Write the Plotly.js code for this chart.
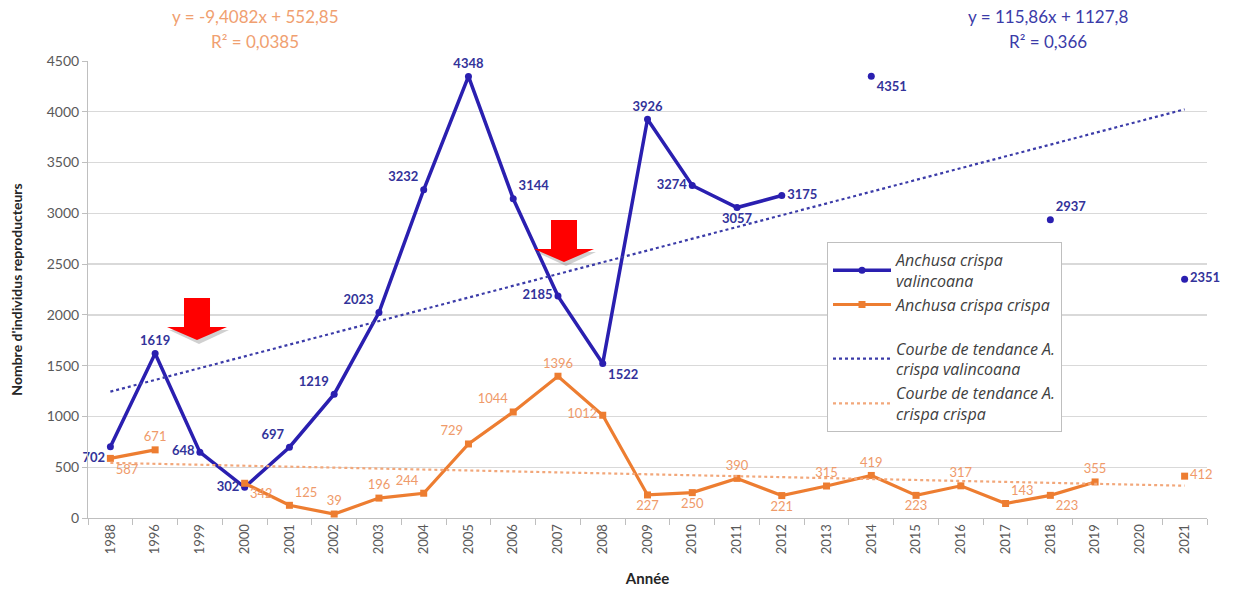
<!DOCTYPE html>
<html>
<head>
<meta charset="utf-8">
<script src="https://cdn.plot.ly/plotly-3.0.1.min.js"></script>
<style>html,body{margin:0;padding:0;background:#fff;}#chart{width:1242px;height:597px;}</style>
</head>
<body>
<div id="chart"></div>
<script>
// ---- Data ----
const years = ["1988","1996","1999","2000","2001","2002","2003","2004","2005","2006","2007","2008","2009","2010","2011","2012","2013","2014","2015","2016","2017","2018","2019","2020","2021"];
const valincoana = [702,1619,648,302,697,1219,2023,3232,4348,3144,2185,1522,3926,3274,3057,3175,null,4351,null,null,null,2937,null,null,2351];
const crispa = [587,671,null,342,125,39,196,244,729,1044,1396,1012,227,250,390,221,315,419,223,317,143,223,355,null,412];
const valincoanaPos = ["bottom left","top center","middle left","middle left","top left","top left","top left","top left","top center","top right","middle left","bottom right","top center","middle left","bottom center","middle right","top center","bottom right","top center","top center","top center","top right","top center","top center","middle right"];
const crispaPos = ["bottom right","top center","top center","bottom right","top right","top center","top center","top left","top left","top left","top center","middle left","bottom center","bottom center","top center","bottom center","top center","top center","bottom center","top center","top right","bottom right","top center","top center","middle right"];
// Trend lines (endpoints)
const trendYears = ["1988","2021"];
const trendValincoana = [1244,4024];
const trendCrispa = [543,318];
const eqCrispa = ["y = -9,4082x + 552,85","R² = 0,0385"];
const eqValincoana = ["y = 115,86x + 1127,8","R² = 0,366"];

const BLUE = "#2a1fb0";
const ORANGE = "#ed7d31";
const FONT = "Lato, 'Open Sans', sans-serif";

const traces = [
  {
    x: years, y: valincoana, type: "scatter", mode: "lines+markers+text",
    name: "Anchusa crispa<br>valincoana", legendgroup: "a",
    line: {color: BLUE, width: 3.5}, marker: {color: BLUE, size: 7},
    connectgaps: false,
    texttemplate: "%{y}", textposition: valincoanaPos,
    textfont: {family: FONT, size: 13, color: "#33339a", weight: "bold"},
    cliponaxis: false
  },
  {
    x: years, y: crispa, type: "scatter", mode: "lines+markers+text",
    name: "Anchusa crispa crispa", legendgroup: "a",
    line: {color: ORANGE, width: 3.2}, marker: {color: ORANGE, size: 7, symbol: "square"},
    connectgaps: false,
    texttemplate: "%{y}", textposition: crispaPos,
    textfont: {family: FONT, size: 13, color: "#ef9a6a"},
    cliponaxis: false
  },
  {
    x: trendYears, y: trendValincoana, type: "scatter", mode: "lines",
    name: "Courbe de tendance A.<br>crispa valincoana", legendgroup: "b",
    line: {color: "#3b3ba8", width: 2.2, dash: "dot"}
  },
  {
    x: trendYears, y: trendCrispa, type: "scatter", mode: "lines",
    name: "Courbe de tendance A.<br>crispa crispa", legendgroup: "b",
    line: {color: "#f2a77a", width: 2.2, dash: "dot"}
  }
];

// pixel -> paper helpers for decorations
const L = 88, R = 1207, T = 61, B = 518;
const px = v => (v - L) / (R - L);
const py = v => (B - v) / (B - T);
function arrowPath(cx, top, shaftW, shaftBot, headW, tip) {
  const p = [
    [cx - shaftW/2, top], [cx + shaftW/2, top], [cx + shaftW/2, shaftBot],
    [cx + headW/2, shaftBot], [cx, tip], [cx - headW/2, shaftBot], [cx - shaftW/2, shaftBot]
  ];
  return "M" + p.map(q => px(q[0]).toFixed(5) + "," + py(q[1]).toFixed(5)).join("L") + "Z";
}
function shadowPath(cx, shaftBot, headW, tip) {
  const p = [[cx - headW/2 + 2, shaftBot + 3], [cx + headW/2 + 2, shaftBot + 3], [cx + 2, tip + 4]];
  return "M" + p.map(q => px(q[0]).toFixed(5) + "," + py(q[1]).toFixed(5)).join("L") + "Z";
}
const shapes = [
  {type: "path", xref: "paper", yref: "paper", path: shadowPath(197, 327, 60, 340), fillcolor: "rgba(120,120,120,0.35)", line: {width: 0}},
  {type: "path", xref: "paper", yref: "paper", path: arrowPath(197, 298, 26, 327, 60, 340), fillcolor: "#ff0000", line: {width: 0}},
  {type: "path", xref: "paper", yref: "paper", path: shadowPath(564, 249, 60, 262), fillcolor: "rgba(120,120,120,0.35)", line: {width: 0}},
  {type: "path", xref: "paper", yref: "paper", path: arrowPath(564, 220, 26, 249, 60, 262), fillcolor: "#ff0000", line: {width: 0}}
];

const eqFont = (c) => ({family: FONT, size: 17, color: c});
const annotations = [
  {text: eqCrispa[0], xref: "paper", yref: "paper", x: px(255), y: py(17), xanchor: "center", yanchor: "middle", showarrow: false, font: eqFont("#f0a070")},
  {text: eqCrispa[1], xref: "paper", yref: "paper", x: px(255), y: py(42), xanchor: "center", yanchor: "middle", showarrow: false, font: eqFont("#f0a070")},
  {text: eqValincoana[0], xref: "paper", yref: "paper", x: px(1048), y: py(17), xanchor: "center", yanchor: "middle", showarrow: false, font: eqFont("#3b3ba8")},
  {text: eqValincoana[1], xref: "paper", yref: "paper", x: px(1048), y: py(42), xanchor: "center", yanchor: "middle", showarrow: false, font: eqFont("#3b3ba8")}
];

const layout = {
  width: 1242, height: 597,
  margin: {l: L, r: 1242 - R, t: T, b: 597 - B},
  paper_bgcolor: "#fff", plot_bgcolor: "#fff",
  font: {family: FONT, color: "#595959"},
  showlegend: true,
  legend: {
    x: px(827), y: py(242), xanchor: "left", yanchor: "top",
    bgcolor: "#fff", bordercolor: "#bfbfbf", borderwidth: 1,
    font: {family: "'Open Sans', Lato, sans-serif", size: 16, color: "#404040", style: "italic"},
    traceorder: "grouped", tracegroupgap: 20, itemwidth: 58
  },
  xaxis: {
    type: "category", categoryorder: "array", categoryarray: years,
    range: [-0.5, years.length - 0.5], autorange: false,
    tickangle: -90, tickfont: {size: 13, color: "#595959"},
    showgrid: false, showline: true, linecolor: "#bfbfbf", linewidth: 1,
    ticks: "outside", tickson: "boundaries", ticklen: 6, tickcolor: "#bfbfbf",
    title: {text: "Année", font: {size: 15, color: "#262626", weight: "bold"}, standoff: 20},
    zeroline: false, fixedrange: true
  },
  yaxis: {
    range: [0, 4500], autorange: false, dtick: 500, tickfont: {size: 14, color: "#595959"},
    showgrid: true, gridcolor: "#d9d9d9", gridwidth: 1.3,
    showline: true, linecolor: "#bfbfbf", linewidth: 1,
    ticks: "outside", ticklen: 5, tickcolor: "#bfbfbf",
    zeroline: false,
    title: {text: "Nombre d'individus reproducteurs", font: {size: 14, color: "#262626", weight: "bold"}, standoff: 20},
    fixedrange: true
  },
  shapes: shapes,
  annotations: annotations
};

Plotly.newPlot("chart", traces, layout, {displayModeBar: false, staticPlot: true});
</script>
</body>
</html>
